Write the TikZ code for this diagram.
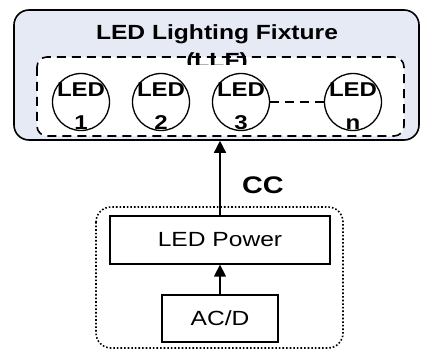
\documentclass[tikz,border=0pt]{standalone}
\usepackage{fontspec}
\setmainfont{Liberation Sans}[FakeStretch=1.2]
\usetikzlibrary{arrows.meta}
\definecolor{fixbg}{HTML}{E6EAF4}
\begin{document}
\begin{tikzpicture}[x=1pt, y=-1pt,
        led/.style={circle, draw, line width=1.3pt, fill=white, minimum size=57pt, inner sep=0pt},
        ledtxt/.style={align=center, inner sep=0pt, yshift=-4pt, font=\bfseries\fontsize{20}{33}\selectfont},
        blk/.style={draw, line width=1.3pt, inner sep=0pt, font=\fontsize{20.5}{24}\selectfont},
        arr/.style={-{Triangle[length=12pt, width=12pt]}, line width=1.5pt}]
        \useasboundingbox (0,0) rectangle (421,350);
        % fixture
        \node[draw, line width=1.6pt, fill=fixbg, rounded corners=15pt, minimum width=405pt, minimum height=130pt] (llf) at (216.5,75) {};
        \node[anchor=base, font=\bfseries\fontsize{20.5}{24}\selectfont] (title) at (217,40) {LED Lighting Fixture};
        \draw[dashed, dash pattern=on 9pt off 6pt, line width=1.6pt, fill=white, rounded corners=10pt] (37,57) rectangle (404,136);
        \begin{scope}
            \clip (150,45) rectangle (290,65);
            \node[anchor=base, font=\bfseries\fontsize{20.5}{24}\selectfont] (abbr) at (217,68) {(LLF)};
        \end{scope}
        \node[led] (led1) at (81,102) {};
        \node[led] (led2) at (161,102) {};
        \node[led] (led3) at (241,102) {};
        \node[led] (ledn) at (353,102) {};
        \node[ledtxt] (led1t) at (led1) {LED\\1};
        \node[ledtxt] (led2t) at (led2) {LED\\2};
        \node[ledtxt] (led3t) at (led3) {LED\\3};
        \node[ledtxt] (lednt) at (ledn) {LED\\n};
        \draw[dashed, dash pattern=on 9pt off 6pt, line width=1.3pt] (led3) -- (ledn);
        % power supply
        \draw[dotted, line width=1.6pt, rounded corners=15pt] (96,207) rectangle (343,348);
        \node[blk, minimum width=220pt, minimum height=48pt] (power) at (220,240) {LED Power};
        \node[blk, minimum width=116pt, minimum height=47pt] (acd) at (220,318.5) {AC/D};
        \draw[arr] (acd) -- (power);
        \draw[arr] (power) -- (power |- llf.south);
        \node[font=\bfseries\fontsize{24}{28}\selectfont] (cc) at (263,185) {CC};
    \end{tikzpicture}
\end{document}
